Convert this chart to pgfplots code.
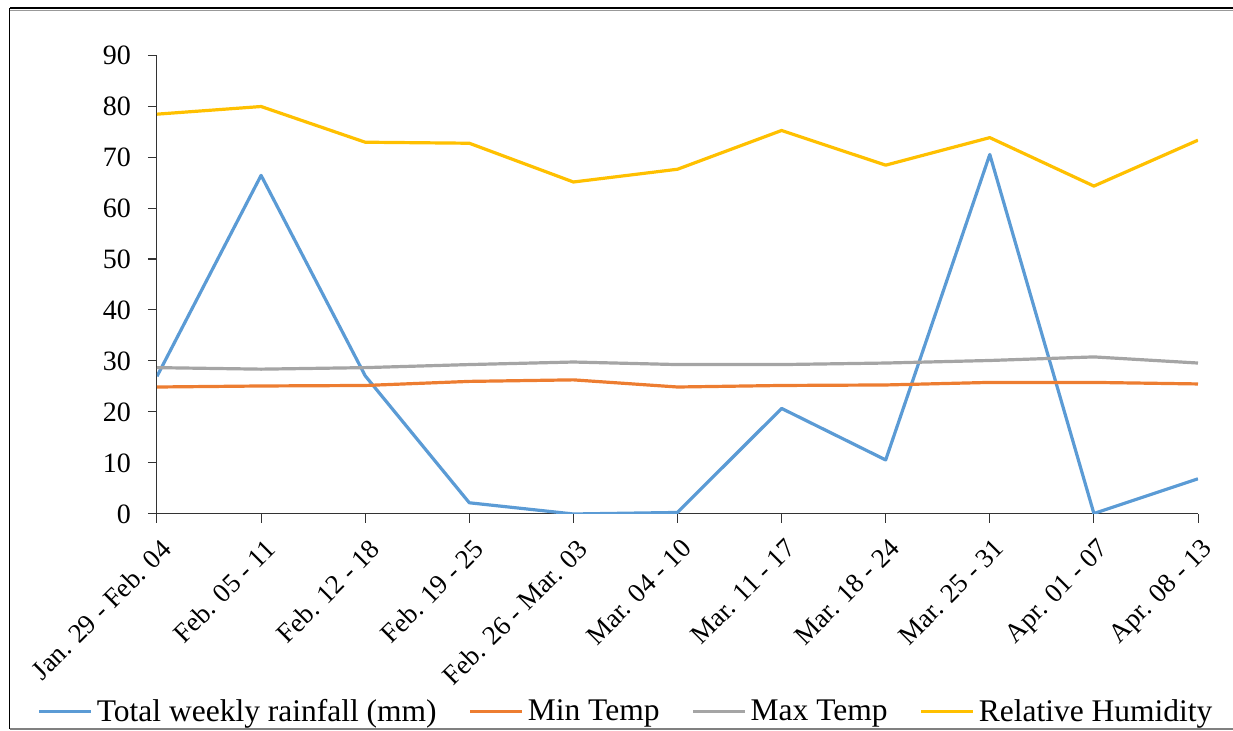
\documentclass[border=0pt]{standalone}
\usepackage{pgfplots}
\pgfplotsset{compat=1.18}
\usepackage{fontspec}
\setmainfont{Liberation Serif}

\definecolor{rainblue}{HTML}{5B9BD5}
\definecolor{minorange}{HTML}{ED7D31}
\definecolor{maxgray}{HTML}{A5A5A5}
\definecolor{humgold}{HTML}{FFC000}

\begin{document}
\begin{tikzpicture}
\begin{axis}[
  at={(0pt,0pt)}, anchor=south west,
  scale only axis,
  width=520.5pt, height=229.5pt,
  xmin=0, xmax=10, ymin=0, ymax=90,
  axis x line*=bottom, axis y line*=left,
  axis line style={-, draw=black!80, line width=0.5pt},
  tick style={draw=black!80, line width=0.5pt},
  tick align=outside, major tick length=4.5pt,
  xtick={0,...,10},
  xticklabels={Jan. 29 - Feb. 04, Feb. 05 - 11, Feb. 12 - 18, Feb. 19 - 25,
    Feb. 26 - Mar. 03, Mar. 04 - 10, Mar. 11 - 17, Mar. 18 - 24,
    Mar. 25 - 31, Apr. 01 - 07, Apr. 08 - 13},
  ytick={0,10,...,90},
  /pgf/number format/assume math mode=true,
  yticklabel style={font=\fontsize{14}{16}\selectfont, xshift=-5pt},
  xticklabel style={font=\fontsize{13.5}{15}\selectfont, rotate=45, anchor=north east, inner sep=2pt, yshift=-4pt, xshift=-2pt},
  legend columns=4,
  legend style={draw=none, fill=none, at={(-0.115,-0.431)}, anchor=west,
    font=\fontsize{15.75}{18}\selectfont, inner sep=0pt,
    /tikz/every even column/.append style={column sep=14pt}},
  legend image code/.code={\draw[#1] (0pt,0pt) -- (26pt,0pt);},
  legend cell align=left,
  every axis plot/.append style={line width=1.6pt, line join=round},
]
\addplot[rainblue] coordinates {(0,27.0) (1,66.4) (2,27.1) (3,2.2) (4,0.0) (5,0.3) (6,20.7) (7,10.6) (8,70.5) (9,0.1) (10,6.9)};
\addlegendentry{Total weekly rainfall (mm)}
\addplot[minorange] coordinates {(0,24.9) (1,25.1) (2,25.2) (3,26.0) (4,26.3) (5,24.9) (6,25.2) (7,25.3) (8,25.8) (9,25.8) (10,25.5)};
\addlegendentry{Min Temp}
\addplot[maxgray] coordinates {(0,28.7) (1,28.4) (2,28.7) (3,29.3) (4,29.8) (5,29.3) (6,29.3) (7,29.6) (8,30.1) (9,30.8) (10,29.6)};
\addlegendentry{Max Temp}
\addplot[humgold] coordinates {(0,78.4) (1,79.9) (2,72.9) (3,72.7) (4,65.1) (5,67.6) (6,75.2) (7,68.4) (8,73.8) (9,64.3) (10,73.3)};
\addlegendentry{Relative Humidity}
\end{axis}
% surrounding frame
\draw[black, line width=1.1pt] (-73.5pt,253pt) -- (540pt,253pt);
\draw[black!40, line width=0.5pt] (-73.5pt,251.9pt) -- (540pt,251.9pt);
\draw[black, line width=0.5pt] (-73.5pt,253pt) -- (-73.5pt,-107.5pt);
\draw[black!50, line width=0.7pt] (-73.5pt,-107.5pt) -- (540pt,-107.5pt);
\pgfresetboundingbox
\useasboundingbox (-78.5pt,-108.5pt) rectangle (538pt,257pt);
\end{tikzpicture}
\end{document}
